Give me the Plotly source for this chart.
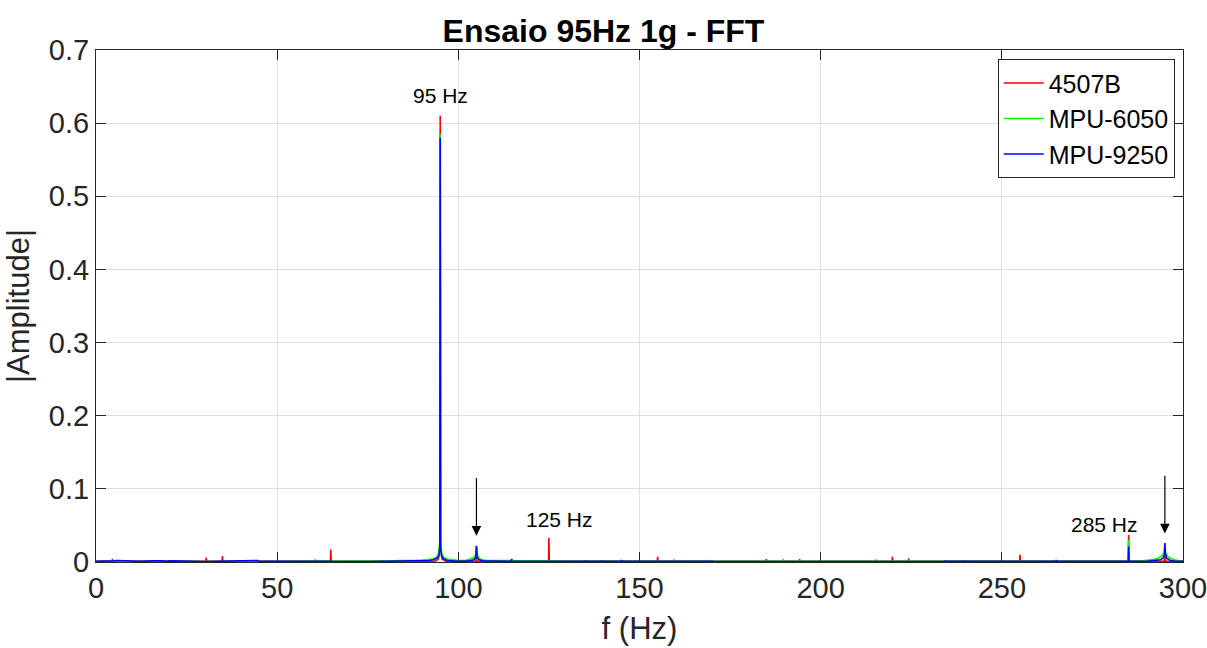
import plotly.graph_objects as go

# ---- data (frequency in Hz, |amplitude|) ----
f_4507B = [0, 4.4, 4.5, 4.6, 25.6, 25.7, 25.8, 30.3, 30.4, 30.5, 34.8, 34.9, 35.0,
           60.4, 60.5, 60.6, 64.7, 64.8, 64.9, 93.5, 94.5, 94.9, 95.0, 95.1, 95.5, 96.5,
           104.9, 105.0, 105.1, 124.9, 125.0, 125.1, 154.9, 155.0, 155.1, 159.4, 159.5, 159.6,
           184.9, 185.0, 185.1, 194.1, 194.2, 194.3, 215.3, 215.4, 215.5, 219.7, 219.8, 219.9,
           224.2, 224.3, 224.4, 254.9, 255.0, 255.1, 284.9, 285.0, 285.1, 294.8, 295.0, 295.2, 300]
a_4507B = [0.001, 0.001, 0.004, 0.001, 0.001, 0.002, 0.001, 0.001, 0.006, 0.001, 0.001, 0.008, 0.001,
           0.001, 0.003, 0.001, 0.001, 0.017, 0.001, 0.001, 0.004, 0.02, 0.61, 0.02, 0.004, 0.001,
           0.001, 0.01, 0.001, 0.001, 0.033, 0.001, 0.001, 0.007, 0.001, 0.001, 0.003, 0.001,
           0.001, 0.004, 0.001, 0.001, 0.004, 0.001, 0.001, 0.003, 0.001, 0.001, 0.007, 0.001,
           0.001, 0.005, 0.001, 0.001, 0.01, 0.001, 0.001, 0.037, 0.001, 0.001, 0.015, 0.001, 0.001]

f_6050 = [0, 10, 20, 40, 60, 74, 76, 78, 80, 82, 84, 86, 88, 90, 92, 93, 94, 94.6, 94.9, 95.0,
          95.1, 95.4, 96, 97, 98, 100, 102, 103.5, 104.3, 104.8, 105.0, 105.2, 105.7, 106.5, 108,
          114.6, 114.8, 115.0, 130, 189.5, 189.6, 189.7, 230, 260, 280, 284.9, 285.0, 285.1, 289,
          291, 292.5, 293.5, 294.3, 294.8, 295.0, 295.2, 295.7, 296.5, 297.5, 299, 300]
a_6050 = [0.0005, 0.0008, 0.0005, 0.0006, 0.0008, 0.0015, 0.0008, 0.0015, 0.001, 0.0015, 0.002,
          0.0015, 0.002, 0.0025, 0.003, 0.004, 0.006, 0.012, 0.03, 0.585,
          0.03, 0.012, 0.006, 0.004, 0.003, 0.002, 0.002, 0.004, 0.006, 0.01, 0.021, 0.01, 0.005, 0.003, 0.002,
          0.002, 0.004, 0.002, 0.001, 0.001, 0.004, 0.001, 0.0008, 0.001, 0.0015, 0.001, 0.03, 0.001, 0.0015,
          0.003, 0.004, 0.006, 0.009, 0.013, 0.025, 0.013, 0.008, 0.005, 0.003, 0.0015, 0.001]

f_9250 = [0, 2, 4.9, 6, 7, 8, 9.5, 12, 16, 17, 17.8, 20, 20.2, 30, 44.6, 44.7, 44.8, 55,
          64.7, 64.8, 64.9, 75, 84, 85, 86, 88, 90, 92, 93, 94, 94.6, 94.9, 95.0, 95.1, 95.4,
          96, 97, 98, 100, 103, 104.3, 104.8, 105.0, 105.2, 105.7, 107, 110, 114.6, 114.7, 114.8,
          125, 134.9, 135.0, 135.1, 139.5, 139.6, 139.7, 144.9, 145.0, 145.1, 169.9, 170.0, 170.1,
          200, 234.1, 234.2, 234.3, 239.6, 239.7, 239.8, 264.9, 265.0, 265.1, 280, 284.9, 285.0, 285.1,
          290, 292.5, 293.8, 294.6, 294.9, 295.0, 295.1, 295.5, 296.5, 298, 300]
a_9250 = [0.001, 0.0008, 0.0015, 0.002, 0.0018, 0.002, 0.0015, 0.0008, 0.0015, 0.002, 0.0015, 0.0008, 0.0015,
          0.0006, 0.001, 0.002, 0.0008, 0.0006,
          0.0008, 0.002, 0.0008, 0.0006, 0.001, 0.002, 0.0015, 0.0012, 0.0015, 0.002, 0.003, 0.005, 0.008, 0.02,
          0.58, 0.02, 0.008,
          0.004, 0.002, 0.0015, 0.001, 0.0015, 0.003, 0.006, 0.022, 0.006, 0.003, 0.0015, 0.001, 0.001, 0.004, 0.001,
          0.0008, 0.0008, 0.002, 0.0008, 0.0008, 0.002, 0.0008, 0.0008, 0.003, 0.0008, 0.0008, 0.0015, 0.0008,
          0.0006, 0.0008, 0.002, 0.0008, 0.0008, 0.002, 0.0008, 0.0008, 0.003, 0.0008, 0.0008, 0.0008, 0.021, 0.0008,
          0.001, 0.002, 0.003, 0.006, 0.012, 0.026, 0.012, 0.005, 0.002, 0.001, 0.0008]

series = [("4507B", f_4507B, a_4507B, "#ff0000"),
          ("MPU-6050", f_6050, a_6050, "#00ff00"),
          ("MPU-9250", f_9250, a_9250, "#0000ff")]

x_ticks = [0, 50, 100, 150, 200, 250, 300]
y_ticks = [0, 0.1, 0.2, 0.3, 0.4, 0.5, 0.6, 0.7]

FONT = "Liberation Sans, Arial, sans-serif"
AX = "#262626"

fig = go.Figure()
for name, fx, ay, col in series:
    fig.add_trace(go.Scatter(x=fx, y=ay, mode="lines", name=name,
                             line=dict(color=col, width=1.6)))

# peak labels
for txt, xx, yy in [("95 Hz", 95.1, 0.638), ("125 Hz", 128.0, 0.058), ("285 Hz", 278.2, 0.051)]:
    fig.add_annotation(x=xx, y=yy, text=txt, showarrow=False,
                       font=dict(family=FONT, size=21, color="black"))

# arrows
for xx, y0, y1 in [(105, 0.036, 0.117), (295, 0.039, 0.12)]:
    fig.add_annotation(x=xx, y=y0, ax=xx, ay=y1, axref="x", ayref="y", xref="x", yref="y",
                       text="", showarrow=True, arrowhead=2, arrowsize=1.6, arrowwidth=1.2,
                       arrowcolor="black")

fig.update_layout(
    width=1207, height=648,
    margin=dict(l=96, r=24, t=50, b=86, autoexpand=False),
    paper_bgcolor="white", plot_bgcolor="white",
    title=dict(text="<b>Ensaio 95Hz 1g - FFT</b>", x=0.5, xanchor="center",
               y=0.953, yanchor="middle",
               font=dict(family=FONT, size=32, color="black")),
    font=dict(family=FONT, color=AX),
    showlegend=True,
    legend=dict(x=0.8295, y=0.982, xanchor="left", yanchor="top",
                bgcolor="white", bordercolor=AX, borderwidth=1,
                font=dict(family=FONT, size=25, color="black"),
                itemwidth=40, tracegroupgap=0),
)
fig.update_xaxes(range=[0, 300], tickvals=x_ticks, ticktext=[str(v) for v in x_ticks],
                 showgrid=True, gridcolor="#dfdfdf", gridwidth=1, automargin=False,
                 ticklabeloverflow="allow",
                 showline=True, linecolor=AX, linewidth=1, mirror="ticks",
                 ticks="inside", ticklen=10, tickcolor=AX, zeroline=False,
                 tickfont=dict(family=FONT, size=29, color=AX),
                 title=dict(text="f (Hz)", font=dict(family=FONT, size=31, color=AX), standoff=14))
fig.update_yaxes(range=[0, 0.7], tickvals=y_ticks, ticktext=[("%g" % v) for v in y_ticks],
                 showgrid=True, gridcolor="#dfdfdf", gridwidth=1, automargin=False,
                 ticklabeloverflow="allow",
                 showline=True, linecolor=AX, linewidth=1, mirror="ticks",
                 ticks="inside", ticklen=10, tickcolor=AX, zeroline=False,
                 tickfont=dict(family=FONT, size=29, color=AX),
                 title=dict(text="|Amplitude|", font=dict(family=FONT, size=31, color=AX), standoff=10))

fig.write_html("out.html")
